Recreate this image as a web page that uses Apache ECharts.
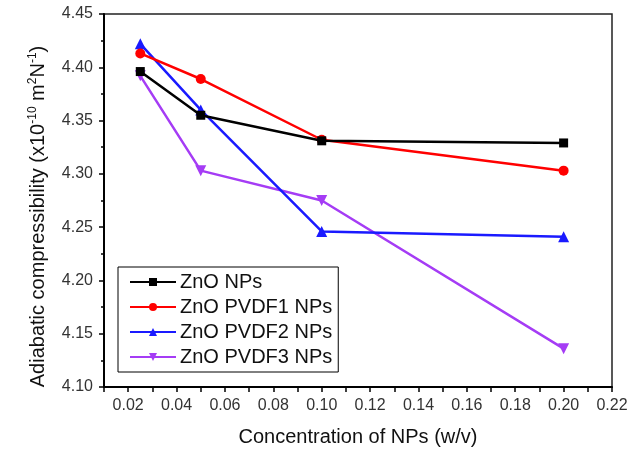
<!DOCTYPE html>
<html>
<head>
<meta charset="utf-8">
<script src="https://cdn.jsdelivr.net/npm/echarts@6/dist/echarts.min.js"></script>
<style>
  html, body { margin: 0; padding: 0; background: #fff; }
  #chart { width: 640px; height: 452px; }
</style>
</head>
<body>
<div id="chart"></div>
<script>
// concentration (w/v) and adiabatic compressibility (x10^-10 m^2 N^-1)
const conc = [0.025, 0.05, 0.1, 0.2];
const znoNPs = [4.396, 4.355, 4.331, 4.329];
const pvdf1 = [4.413, 4.389, 4.332, 4.303];
const pvdf2 = [4.422, 4.360, 4.246, 4.241];
const pvdf3 = [4.392, 4.303, 4.275, 4.136];
const seriesNames = ["ZnO NPs", "ZnO PVDF1 NPs", "ZnO PVDF2 NPs", "ZnO PVDF3 NPs"];

const FONT = "Liberation Sans, Arial, sans-serif";

function pts(ys) {
  return conc.map((x, i) => [x, ys[i]]);
}

const chart = echarts.init(document.getElementById("chart"));

const styles = [
  { color: "#000000", symbol: "rect", size: 9 },
  { color: "#ff0000", symbol: "circle", size: 10 },
  { color: "#1a1aff", symbol: "triangle", size: 11 },
  { color: "#a53cf5", symbol: "path://M0,0 L10,0 L5,9 Z", size: 11 },
];

chart.setOption({
  backgroundColor: "#fff",
  animation: false,
  grid: {
    left: 104, right: 28, top: 14, bottom: 65,
    show: true, borderColor: "#222", borderWidth: 1.5,
  },
  legend: {
    orient: "vertical",
    left: 118, top: 267,
    data: seriesNames,
    borderColor: "#000", borderWidth: 1,
    padding: [5, 6, 5, 11],
    itemWidth: 46, itemHeight: 10, itemGap: 5,
    textStyle: { fontFamily: FONT, fontSize: 20, color: "#111", padding: [0, 0, 0, -1] },
  },
  xAxis: {
    type: "value",
    min: 0.01, max: 0.22, interval: 0.01,
    name: "Concentration of NPs (w/v)",
    nameLocation: "middle", nameGap: 40,
    nameTextStyle: { fontFamily: FONT, fontSize: 20, color: "#111" },
    axisLine: { lineStyle: { color: "#000", width: 2 } },
    axisTick: { length: 5, lineStyle: { color: "#000", width: 1.5 } },
    axisLabel: {
      fontFamily: FONT, fontSize: 16, color: "#333", margin: 11,
      formatter: (v) => (Math.round(v * 100) % 2 === 0 ? v.toFixed(2) : ""),
    },
    splitLine: { show: false },
  },
  yAxis: {
    type: "value",
    min: 4.10, max: 4.45, interval: 0.05,
    name: "{t|Adiabatic compressibility (x10}{s|-10}{t| m}{s|2}{t|N}{s|-1}{t|)}",
    nameLocation: "middle", nameGap: 55,
    nameTextStyle: {
      padding: [0, 32, 0, 0],
      rich: {
        t: { fontFamily: FONT, fontSize: 20, color: "#111" },
        s: { fontFamily: FONT, fontSize: 12, color: "#111", verticalAlign: "top", padding: [0, 0, 10, 0] },
      },
    },
    axisLine: { show: true, lineStyle: { color: "#000", width: 2 } },
    axisTick: { length: 5, lineStyle: { color: "#000", width: 1.5 } },
    minorTick: { show: true, splitNumber: 2, length: 3, lineStyle: { color: "#000", width: 1.5 } },
    axisLabel: {
      fontFamily: FONT, fontSize: 16, color: "#333", margin: 11,
      formatter: (v) => v.toFixed(2),
    },
    splitLine: { show: false },
  },
  series: [znoNPs, pvdf1, pvdf2, pvdf3].map((ys, i) => ({
    name: seriesNames[i],
    type: "line",
    data: pts(ys),
    symbol: styles[i].symbol,
    symbolSize: styles[i].size,
    itemStyle: { color: styles[i].color },
    lineStyle: { color: styles[i].color, width: 2.5 },
    z: 10 - i,
  })),
});
</script>
</body>
</html>
